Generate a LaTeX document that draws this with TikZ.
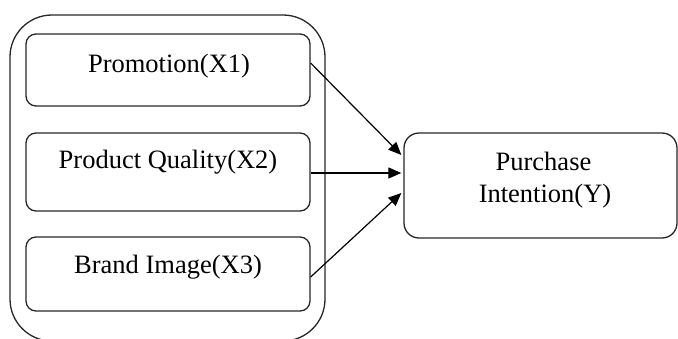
\documentclass[tikz,border=0pt]{standalone}
\usepackage{fontspec}
\setmainfont{Liberation Serif}
\usetikzlibrary{arrows.meta,calc}

\begin{document}
\begin{tikzpicture}[x=1pt,y=-1pt,
  line width=1.3pt,
  frame/.style={draw=black!85, rounded corners=42pt},
  varbox/.style={draw=black!85, rounded corners=10pt, inner sep=0pt,
    minimum width=284pt},
  outbox/.style={draw=black!85, rounded corners=15pt, inner sep=0pt,
    minimum width=273pt, minimum height=105pt},
  lbl/.style={anchor=base, inner sep=0pt, font=\fontsize{26.5}{32}\selectfont},
  link/.style={draw=black, line width=1.2pt, -{Triangle[length=13pt,width=11pt]}}
]
\useasboundingbox (0,0) rectangle (678,338);

% grouping frame round the three independent variables
\draw[frame] (10,15) rectangle (325,341);

% independent variables
\node[varbox, minimum height=72pt] (b1) at (168,70) {};
\node[varbox, minimum height=78pt] (b2) at (168,172) {};
\node[varbox, minimum height=74pt] (b3) at (168,274) {};
\node[lbl] (t1) at (169,72) {Promotion(X1)};
\node[lbl] (t2) at (168,168) {Product Quality(X2)};
\node[lbl] (t3) at (168,273) {Brand Image(X3)};

% dependent variable
\node[outbox] (y) at (540.5,185.5) {};
\node[lbl] (ty1) at (543.5,170) {Purchase};
\node[lbl] (ty2) at (545,202) {Intention(Y)};

% influence arrows
\draw[link] ($(b1.east)+(0,-7)$) -- ($(y.west)+(-2,-30.5)$);
\draw[link] ($(b2.east)+(0,1)$) -- ($(y.west)+(-2,-12.5)$);
\draw[link] ($(b3.east)+(0,3)$) -- ($(y.west)+(-2,7.5)$);
\end{tikzpicture}
\end{document}
